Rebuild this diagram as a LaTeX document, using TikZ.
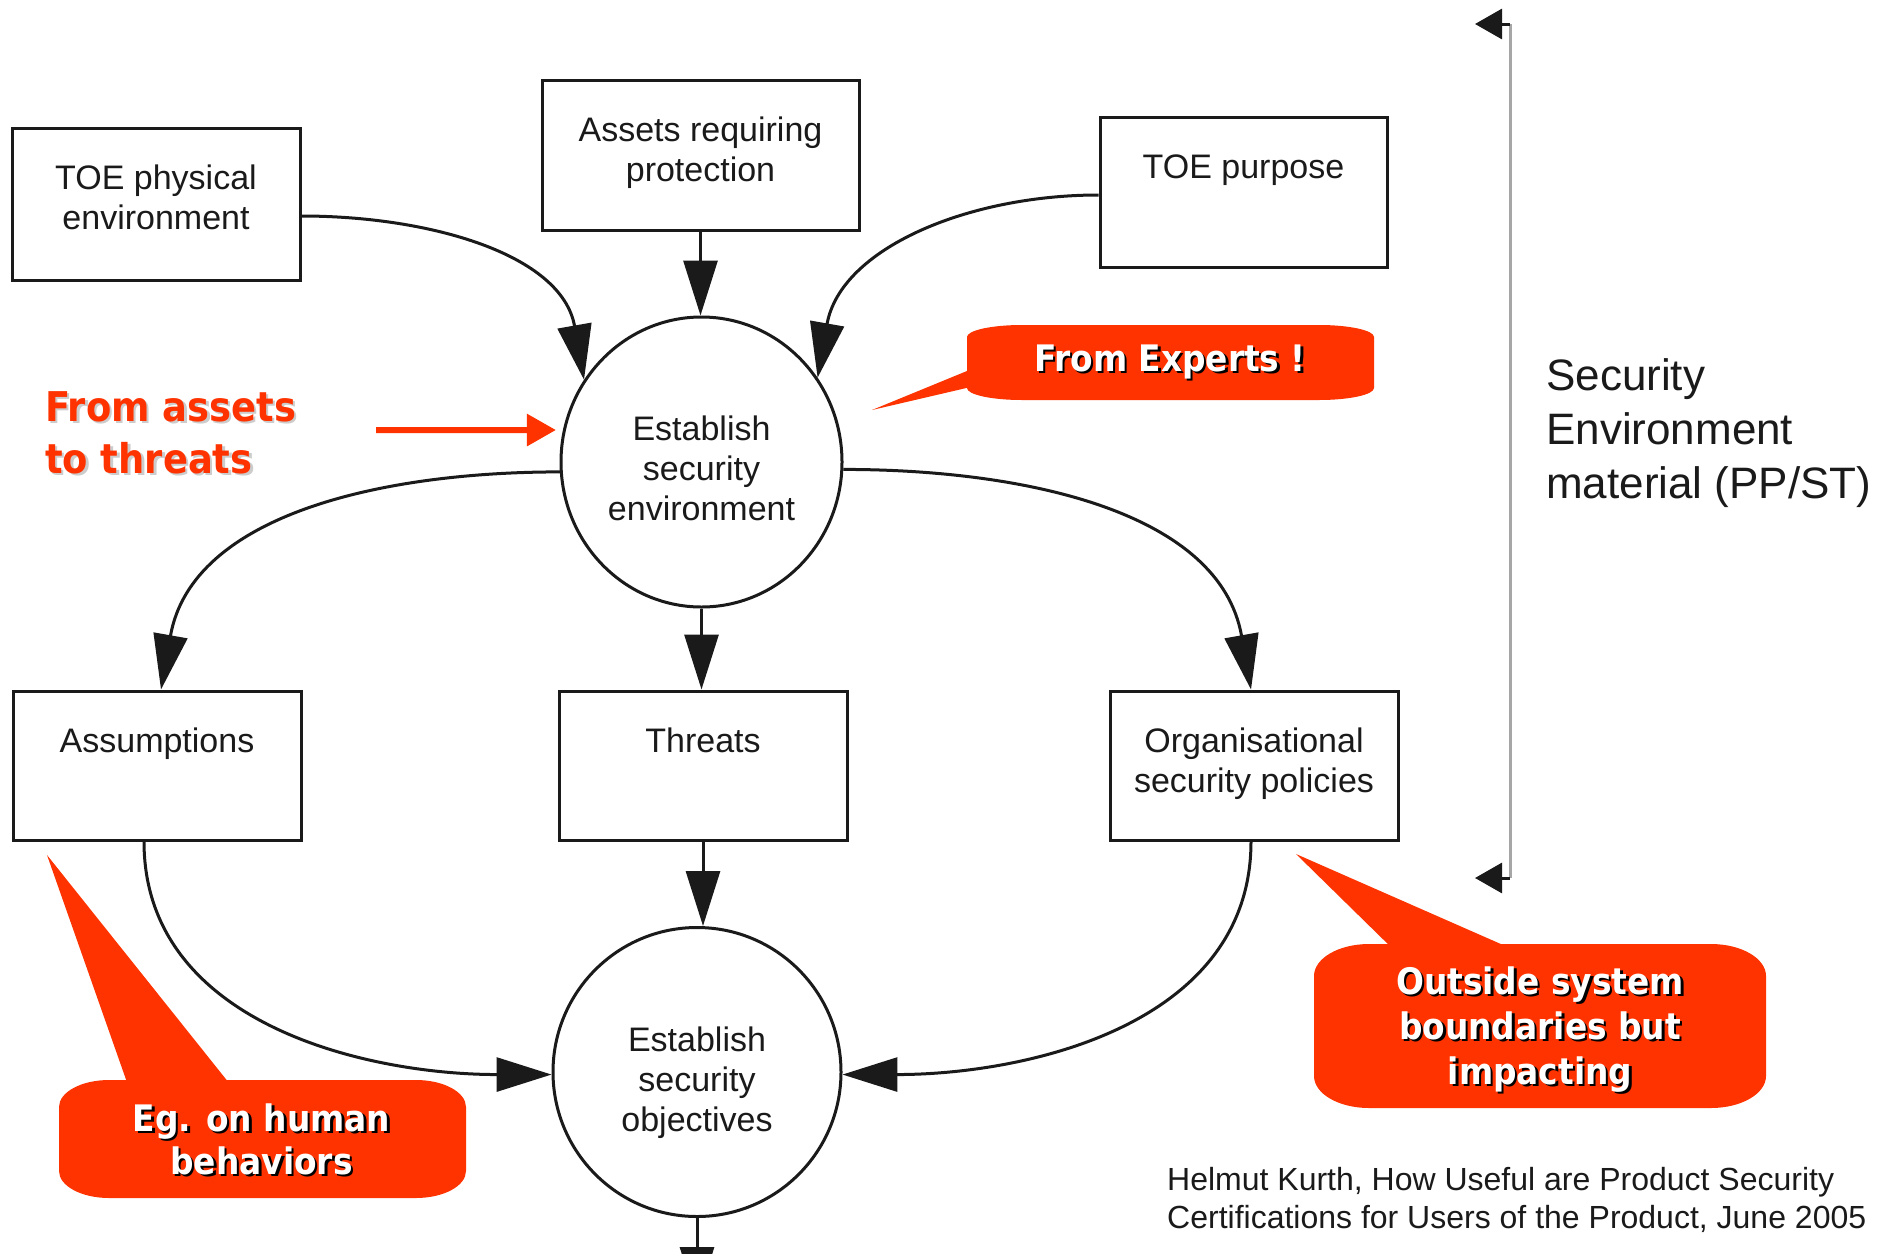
\documentclass[tikz,border=0pt]{standalone}
\usepackage{fontspec}
\setmainfont{Liberation Sans}
\newfontfamily\calloutfont{DejaVu Sans Condensed}
\usetikzlibrary{arrows.meta,shapes.geometric}
\definecolor{alert}{HTML}{FF3300}
\definecolor{ink}{HTML}{1A1A1A}

% rounded speech-bubble body: x1, ylo, x2, yhi, corner x radius, corner y radius
\newcommand{\calloutbox}[6]{%
  \fill[alert] ({#1+#5},#4) -- ({#3-#5},#4)
    arc[start angle=90,end angle=0,x radius=#5pt,y radius=#6pt]
    -- (#3,{#2+#6})
    arc[start angle=0,end angle=-90,x radius=#5pt,y radius=#6pt]
    -- ({#1+#5},#2)
    arc[start angle=270,end angle=180,x radius=#5pt,y radius=#6pt]
    -- (#1,{#4-#6})
    arc[start angle=180,end angle=90,x radius=#5pt,y radius=#6pt]
    -- cycle;}

\begin{document}
\begin{tikzpicture}[x=1pt,y=1pt,
  box/.style={draw=ink, line width=3pt, minimum width=288pt, minimum height=150pt, inner sep=0pt},
  oval/.style={ellipse, draw=ink, line width=3pt, inner sep=0pt},
  boxlabel/.style={font=\fontsize{34}{40}\selectfont, text=ink, align=center, anchor=north, inner sep=0pt},
  flow/.style={draw=ink, line width=3pt, -{Triangle[length=55pt,width=34pt]}},
  sidearrow/.style={draw=ink, line width=3pt, -{Triangle[length=27pt,width=30pt]}},
  bubbletext/.style={text=white, align=center, inner sep=0pt},
  bubbleshadow/.style={text=black, align=center, inner sep=0pt},
]
\useasboundingbox (0,0) rectangle (1894,-1253);
\clip (0,0) rectangle (1894,-1253);
\fill[white] (0,0) rectangle (1894,-1253);

% input boxes
\node[box, minimum height=152pt] (tpe) at (156,-204) {};
\node[box, minimum width=317pt] (arp) at (700.5,-155) {};
\node[box, minimum width=287pt] (tp) at (1243.5,-192) {};
\node[boxlabel] (tpeT) at ([yshift=-35pt]tpe.north) {\strut TOE physical\\\strut environment};
\node[boxlabel] (arpT) at ([yshift=-35pt]arp.north) {\strut Assets requiring\\\strut protection};
\node[boxlabel] (tpT) at ([yshift=-35pt]tp.north) {\strut TOE purpose};

% central process
\node[oval, minimum width=281pt, minimum height=290pt] (env) at (701.5,-462) {};
\node[boxlabel] (envT) at ([yshift=-97pt]env.north) {\strut Establish\\\strut security\\\strut environment};

% output boxes
\node[box, minimum height=149pt] (asm) at (157,-765.5) {};
\node[box, minimum height=149pt] (thr) at (703,-765.5) {};
\node[box, minimum height=149pt] (osp) at (1254,-765.5) {};
\node[boxlabel] (asmT) at ([yshift=-35pt]asm.north) {\strut Assumptions};
\node[boxlabel] (thrT) at ([yshift=-35pt]thr.north) {\strut Threats};
\node[boxlabel] (ospT) at ([yshift=-35pt]osp.north) {\strut Organisational\\\strut security policies};

% objectives
\node[oval, minimum width=288pt, minimum height=289pt] (obj) at (697,-1072) {};
\node[boxlabel] (objT) at ([yshift=-97pt]obj.north) {\strut Establish\\\strut security\\\strut objectives};

% flows
\draw[flow] ([yshift=-12pt]tpe.east) to[out=0,in=100] (env.145);
\draw[flow] (arp.south) -- (arp.south |- env.north);
\draw[flow] ([yshift=-3pt]tp.west) to[out=180,in=80] (env.36);
\draw[flow] (env.184) to[out=180,in=80] ([xshift=4pt]asm.north);
\draw[flow] (env.south) -- (env.south |- thr.north);
\draw[flow] (env.357) to[out=0,in=100] ([xshift=-3pt]osp.north);
\draw[flow] (thr.south) -- (thr.south |- obj.north);
\draw[flow] ([xshift=-13pt]asm.south) to[out=-90,in=180] (obj.181);
\draw[flow] ([xshift=-3pt]osp.south) to[out=-90,in=0] (obj.359);
\coordinate (onward) at ([yshift=-84pt]obj.south);
\draw[flow] (obj.south) -- (onward);

% bracket on the right
\coordinate (brtop) at (1510,-24);
\coordinate (brbot) at (1510,-878);
\coordinate (brtopend) at (1475,-24);
\coordinate (brbotend) at (1475,-878);
\draw[gray!70, line width=3pt] (brtop) -- (brbot);
\draw[sidearrow] (brtop) -- (brtopend);
\draw[sidearrow] (brbot) -- (brbotend);
\node[font=\fontsize{44}{54}\selectfont, text=ink, align=left, anchor=north west, inner sep=0pt]
  (sem) at (1546,-352) {\strut Security\\\strut Environment\\\strut material (PP/ST)};

% source
\node[font=\fontsize{32}{38}\selectfont, text=ink, align=left, anchor=north west, inner sep=0pt]
  (cite) at (1167,-1163.4) {\strut Helmut Kurth, How Useful are Product Security\\\strut Certifications for Users of the Product, June 2005};

% red annotation with arrow
\node[font=\calloutfont\bfseries\fontsize{41}{52}\selectfont, text=gray!40, align=left, anchor=north west, inner sep=0pt]
  (redS) at (47.5,-387) {\strut From assets\\\strut to threats};
\node[font=\calloutfont\bfseries\fontsize{41}{52}\selectfont, text=alert, align=left, anchor=north west, inner sep=0pt]
  (redT) at (45,-384.6) {\strut From assets\\\strut to threats};
\coordinate (arrowtail) at (376,-430);
\draw[alert, line width=6pt, -{Triangle[length=29pt,width=31pt]}, shorten >=7pt] (arrowtail) -- (env.167);

% callouts
\calloutbox{967}{-400}{1374}{-325}{55}{12}
\fill[alert] (975,-367.7) -- (872,-410) -- (975,-386) -- cycle;
\node[bubbleshadow, font=\calloutfont\bfseries\fontsize{36.5}{44}\selectfont, anchor=base] (expS) at (1172.5,-373.5) {From Experts !};
\node[bubbletext, font=\calloutfont\bfseries\fontsize{36.5}{44}\selectfont, anchor=base] (expT) at (1170,-371) {From Experts !};

\calloutbox{1314}{-1108}{1766}{-944}{55}{32}
\fill[alert] (1396,-952) -- (1296,-854) -- (1519,-952) -- cycle;
\node[bubbleshadow, font=\calloutfont\bfseries\fontsize{36.5}{45}\selectfont, anchor=north] (outS) at (1542.5,-965) {\strut Outside system\\\strut boundaries but\\\strut impacting};
\node[bubbletext, font=\calloutfont\bfseries\fontsize{36.5}{45}\selectfont, anchor=north] (outT) at (1540,-962.5) {\strut Outside system\\\strut boundaries but\\\strut impacting};

\calloutbox{59}{-1198}{466}{-1080}{50}{27}
\fill[alert] (129,-1088) -- (47,-855) -- (233,-1088) -- cycle;
\node[bubbleshadow, font=\calloutfont\bfseries\fontsize{36.5}{43}\selectfont, anchor=north] (egS) at (264,-1103.5) {\strut Eg. on human\\\strut behaviors};
\node[bubbletext, font=\calloutfont\bfseries\fontsize{36.5}{43}\selectfont, anchor=north] (egT) at (261.5,-1101) {\strut Eg. on human\\\strut behaviors};
\end{tikzpicture}
\end{document}
